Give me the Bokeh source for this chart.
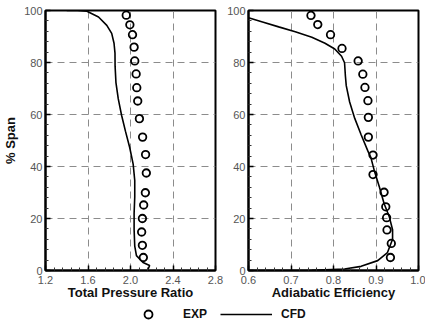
import numpy as np
from bokeh.plotting import figure
from bokeh.layouts import row, column
from bokeh.models import (Range1d, FixedTicker, NumeralTickFormatter, Legend,
                          LegendItem, ColumnDataSource)
from bokeh.embed import file_html
from bokeh.resources import INLINE

# ---- data: spanwise profiles (% span) ----
# total pressure ratio, experiment
tpr_exp_x = [1.960, 1.994, 2.019, 2.034, 2.040, 2.053, 2.059, 2.068, 2.084, 2.114,
             2.142, 2.149, 2.140, 2.124, 2.112, 2.105, 2.112, 2.121]
tpr_exp_span = [98.2, 94.5, 90.7, 85.9, 80.6, 75.6, 70.3, 65.2, 58.4, 51.3,
                44.6, 37.5, 29.9, 25.2, 20.0, 14.8, 9.7, 5.0]
# total pressure ratio, CFD
tpr_cfd_x = [1.400, 1.500, 1.590, 1.699, 1.777, 1.823, 1.845, 1.854, 1.855, 1.863,
             1.885, 1.916, 1.953, 1.993, 2.025, 2.040, 2.040, 2.034, 2.034, 2.040,
             2.056, 2.118, 2.180, 2.165]
tpr_cfd_span = [100.0, 100.0, 99.7, 97.5, 94.3, 91.2, 87.4, 83.6, 78.6, 72.3,
                66.0, 59.7, 53.5, 47.2, 40.9, 34.6, 28.3, 22.0, 15.7, 9.4,
                5.7, 3.1, 1.9, 0.4]
# adiabatic efficiency, experiment
eff_exp_x = [0.747, 0.763, 0.793, 0.820, 0.858, 0.869, 0.874, 0.881, 0.882, 0.882,
             0.893, 0.893, 0.919, 0.923, 0.925, 0.926, 0.936, 0.934]
eff_exp_span = [98.1, 94.6, 90.7, 85.4, 80.6, 75.5, 70.4, 65.3, 58.9, 51.3,
                44.4, 36.9, 30.1, 24.5, 20.3, 15.6, 10.4, 5.0]
# adiabatic efficiency, CFD
eff_cfd_x = [0.600, 0.633, 0.671, 0.710, 0.749, 0.780, 0.803, 0.819, 0.826, 0.828,
             0.830, 0.838, 0.850, 0.865, 0.881, 0.888, 0.896, 0.908, 0.919, 0.931,
             0.939, 0.939, 0.927, 0.904, 0.865, 0.826, 0.749, 0.670, 0.600]
eff_cfd_span = [97.2, 95.6, 93.7, 91.8, 89.7, 87.4, 85.2, 82.4, 79.9, 74.8,
                71.1, 64.8, 58.5, 52.2, 45.9, 43.4, 38.4, 32.1, 25.8, 20.8,
                15.7, 12.0, 6.9, 3.8, 1.6, 0.6, 0.1, 0.0, 0.0]

# ---- axis ticks ----
span_ticks = [0, 20, 40, 60, 80, 100]
tpr_ticks = [1.2, 1.6, 2.0, 2.4, 2.8]
eff_ticks = [0.6, 0.7, 0.8, 0.9, 1.0]

FONT = "Liberation Sans"


def minor_between(major):
    out = []
    for a, b in zip(major[:-1], major[1:]):
        step = (b - a) / 5.0
        out += [a + k * step for k in range(1, 5)]
    return out


def panel(width, border_left, border_right, x_range, x_ticks, xlabel, ylabel):
    p = figure(width=width, height=302, output_backend="svg", toolbar_location=None,
               x_range=Range1d(*x_range), y_range=Range1d(0, 100),
               min_border_left=border_left, min_border_right=border_right,
               min_border_top=10, min_border_bottom=27)
    p.background_fill_color = "white"
    p.border_fill_color = "white"
    p.outline_line_color = "black"
    p.outline_line_width = 2

    p.xaxis.ticker = FixedTicker(ticks=x_ticks, minor_ticks=minor_between(x_ticks))
    p.yaxis.ticker = FixedTicker(ticks=span_ticks, minor_ticks=minor_between(span_ticks))
    p.xaxis.formatter = NumeralTickFormatter(format="0.0")
    for ax in (p.xaxis, p.yaxis):
        ax.axis_line_color = "black"
        ax.axis_line_width = 2
        ax.major_tick_in = 5
        ax.major_tick_out = 0
        ax.minor_tick_in = 3
        ax.minor_tick_out = 0
        ax.major_tick_line_width = 1.5
        ax.major_tick_line_color = "black"
        ax.minor_tick_line_color = "#333333"
        ax.major_label_text_font = FONT
        ax.major_label_text_font_size = "11px"
        ax.major_label_text_color = "#555555"
        ax.axis_label_text_font = FONT
        ax.axis_label_text_font_size = "13px"
        ax.axis_label_text_font_style = "bold"
        ax.axis_label_text_color = "#111111"
    p.xaxis.major_label_standoff = 5
    p.xaxis.axis_label_standoff = -2
    p.yaxis.major_label_standoff = 3
    p.yaxis.axis_label_standoff = 3
    p.xaxis.axis_label = xlabel
    if ylabel:
        p.yaxis.axis_label = ylabel

    for g in (p.xgrid, p.ygrid):
        g.grid_line_color = "#8c8c8c"
        g.grid_line_dash = "7 5"
        g.grid_line_width = 1
    p.xgrid.ticker = FixedTicker(ticks=x_ticks)
    p.ygrid.ticker = FixedTicker(ticks=span_ticks)
    return p


p1 = panel(224, 43, 9, (1.2, 2.8), tpr_ticks, "Total Pressure Ratio", "% Span")
p1.line(tpr_cfd_x, tpr_cfd_span, line_color="black", line_width=1.6)
p1.scatter(tpr_exp_x, tpr_exp_span, size=7.5, marker="circle", fill_color=None,
           line_color="black", line_width=1.8)

p2 = panel(201, 22, 7, (0.6, 1.0), eff_ticks, "Adiabatic Efficiency", None)
p2.line(eff_cfd_x, eff_cfd_span, line_color="black", line_width=1.6)
p2.scatter(eff_exp_x, eff_exp_span, size=7.5, marker="circle", fill_color=None,
           line_color="black", line_width=1.8)

# shared legend strip under both panels; its sample renderers sit outside the
# visible range so only the legend entries show
leg = figure(width=425, height=24, output_backend="svg", toolbar_location=None,
             x_range=Range1d(0, 1), y_range=Range1d(0, 1),
             min_border=0, min_border_left=0, min_border_right=0,
             min_border_top=0, min_border_bottom=0)
leg.axis.visible = False
leg.grid.visible = False
leg.outline_line_color = None
src = ColumnDataSource(data=dict(x=[-5, -4], y=[-5, -5]))
r_exp = leg.scatter("x", "y", source=src, size=7.5, marker="circle", fill_color=None,
                    line_color="black", line_width=1.8)
r_cfd = leg.line("x", "y", source=src, line_color="black", line_width=1.6)
legend = Legend(items=[LegendItem(label="EXP", renderers=[r_exp]),
                       LegendItem(label="CFD", renderers=[r_cfd])],
                orientation="horizontal", location=(122, 2),
                glyph_width=52, glyph_height=20, label_standoff=9, spacing=13,
                padding=0, margin=0, border_line_color=None,
                background_fill_alpha=0,
                label_text_font=FONT, label_text_font_size="12px",
                label_text_font_style="bold", label_text_color="#111111")
leg.add_layout(legend)

layout = column(row(p1, p2, spacing=0), leg, spacing=0)

open("out.html", "w").write(file_html(layout, INLINE))
